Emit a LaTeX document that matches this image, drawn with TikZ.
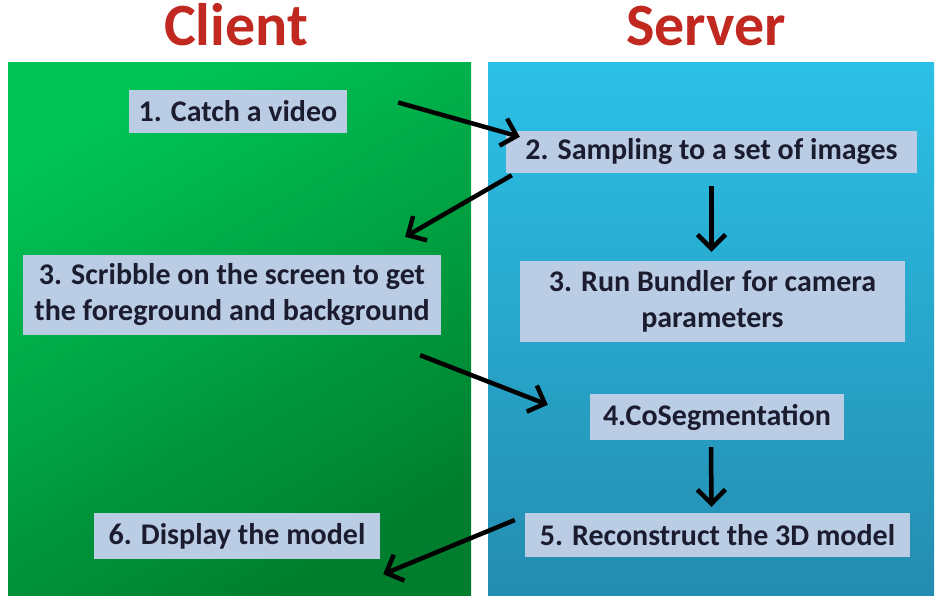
\documentclass[tikz,border=0pt]{standalone}
\usepackage{fontspec}
\setmainfont{Carlito}
\usetikzlibrary{arrows.meta,calc}
\definecolor{boxfill}{RGB}{186,205,228}
\definecolor{boxtext}{RGB}{28,28,48}
\definecolor{headred}{RGB}{192,40,32}
\definecolor{clientlight}{RGB}{0,196,86}
\definecolor{clientdark}{RGB}{0,126,46}
\definecolor{servertop}{RGB}{44,192,230}
\definecolor{serverbot}{RGB}{36,140,176}

\begin{document}
\begin{tikzpicture}[x=1pt, y=-1pt,
		stepbox/.style={fill=boxfill, text=boxtext, inner sep=0pt, align=center,
			font=\bfseries\fontsize{30}{36}\selectfont},
		header/.style={anchor=base, text=headred, font=\bfseries\fontsize{60}{64}\selectfont},
		flow/.style={line width=4.5pt, -{Straight Barb[length=14pt, width=28pt]}}]
			\useasboundingbox (0,0) rectangle (936,596);
			% panels
			\shade[top color=clientlight, bottom color=clientdark, shading angle=30] (8,63) rectangle (471,596);
			\shade[top color=servertop, bottom color=serverbot] (488,63) rectangle (934,596);
			% titles
			\node[header] (client)at(236, 46) {Client};
			\node[header] (server)at(706, 46) {Server};
			% steps
			\node[stepbox, minimum width=218pt, minimum height=43pt] (catch)at(238, 111.5) {1. Catch a video};
			\node[stepbox, minimum width=411pt, minimum height=42pt] (sample)at(711.5, 152) {2. Sampling to a set of images};
			\node[stepbox, minimum width=418pt, minimum height=80pt] (scribble)at(232, 295) {3. Scribble on the screen to get\\the foreground and background};
			\node[stepbox, minimum width=385pt, minimum height=81pt] (bundler)at(712.5, 301.5) {3. Run Bundler for camera\\parameters};
			\node[stepbox, minimum width=254pt, minimum height=46pt] (coseg)at(717, 417) {4.CoSegmentation};
			\node[stepbox, minimum width=385pt, minimum height=44pt] (recon)at(717.5, 535) {5. Reconstruct the 3D model};
			\node[stepbox, minimum width=286pt, minimum height=46pt] (display)at(237, 536) {6. Display the model};
			% arrows
			\draw[flow] ($(catch.east)+(51,-9)$) -- ($(sample.north west)+(14,6)$);
			\draw[flow] ($(sample.south west)+(6,2)$) -- ($(scribble.north east)+(-36,-18)$);
			\draw[flow] ($(sample.south)+(0,13)$) -- ($(bundler.north)+(-1,-9)$);
			\draw[flow] ($(scribble.south east)+(-21,20)$) -- ($(coseg.north west)+(-42,11)$);
			\draw[flow] ($(coseg.south)+(-6,7)$) -- ($(recon.north)+(-6,-6)$);
			\draw[flow] ($(recon.west)+(-10,-15)$) -- ($(display.south east)+(3,15)$);
		\end{tikzpicture}
\end{document}
